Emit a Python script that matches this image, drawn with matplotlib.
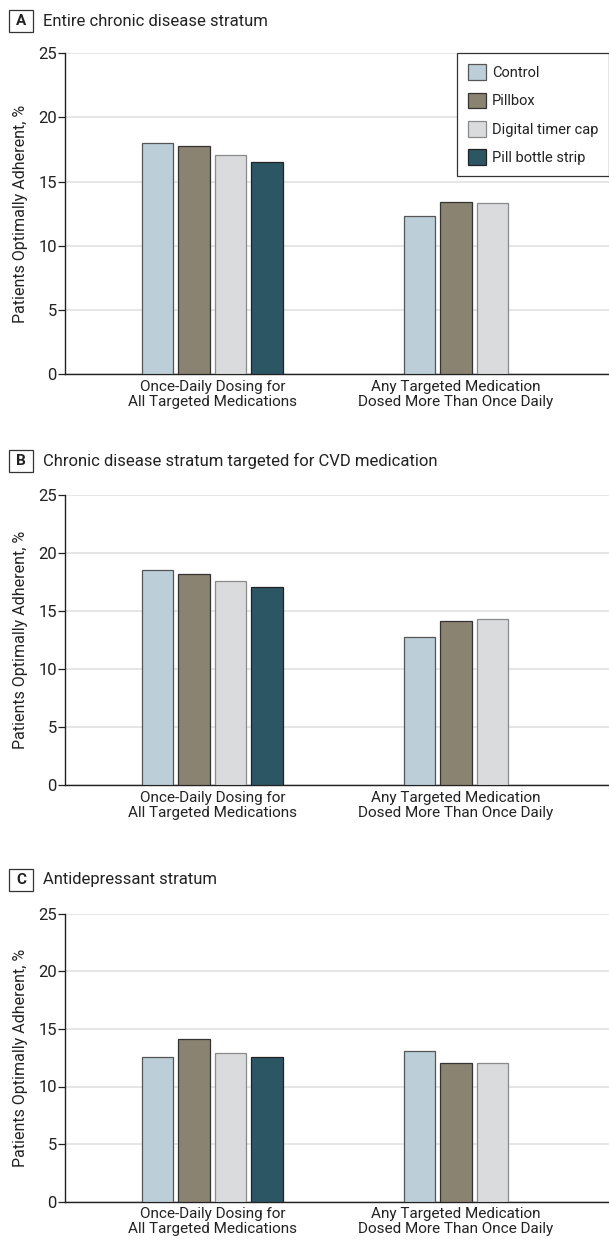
import matplotlib
matplotlib.use("Agg")
import matplotlib.pyplot as plt
from matplotlib.patches import Rectangle
import numpy as np

plt.rcParams['font.family'] = ['Roboto', 'DejaVu Sans']

# ---- data ----
categories = ["Once-Daily Dosing for\nAll Targeted Medications",
              "Any Targeted Medication\nDosed More Than Once Daily"]
series = ["Control", "Pillbox", "Digital timer cap", "Pill bottle strip"]
panel_letters = ["A", "B", "C"]
panel_titles = ["Entire chronic disease stratum",
                "Chronic disease stratum targeted for CVD medication",
                "Antidepressant stratum"]
# values per panel: once-daily group (4 series), more-than-once group (3 series)
a_once = [18.0, 17.8, 17.1, 16.5]
a_multi = [12.3, 13.4, 13.3]
b_once = [18.5, 18.2, 17.6, 17.1]
b_multi = [12.8, 14.1, 14.3]
c_once = [12.6, 14.1, 12.9, 12.6]
c_multi = [13.1, 12.0, 12.0]
y_ticks = [0, 5, 10, 15, 20, 25]

# ---- style ----
face = ["#BCCFD8", "#8A8371", "#DADBDD", "#2D5664"]
edge = ["#555555", "#333333", "#8A8A8A", "#222222"]
txt = "#222222"
W, H = 609, 1240
fig = plt.figure(figsize=(W / 100, H / 100), dpi=100)

# axes pixel positions (top, bottom) of the 25 and 0 levels
ax_px = [(53.3, 374.0), (495.0, 785.0), (913.7, 1201.7)]
title_cy = [21.0, 461.0, 879.5]
left_px = 65.3
pitch = 0.1494
bw = 0.129

panels = [(a_once, a_multi), (b_once, b_multi), (c_once, c_multi)]

for i, ((once, multi), (ytop, ybot)) in enumerate(zip(panels, ax_px)):
    ax = fig.add_axes([left_px / W, 1 - ybot / H, (W - left_px) / W, (ybot - ytop) / H])
    n1 = len(once)
    offs1 = (np.arange(n1) - (n1 - 1) / 2) * pitch
    for j, v in enumerate(once):
        ax.bar(0 + offs1[j], v, width=bw, color=face[j], edgecolor=edge[j],
               linewidth=0.9, label=series[j], zorder=3)
    n2 = len(multi)
    offs2 = (np.arange(n2) - (n2 - 1) / 2) * pitch
    for j, v in enumerate(multi):
        ax.bar(1 + offs2[j], v, width=bw, color=face[j], edgecolor=edge[j],
               linewidth=0.9, zorder=3)
    ax.set_xlim(-0.603, 1.628)
    ax.set_ylim(0, 25)
    ax.set_yticks(y_ticks)
    ax.set_xticks([0, 1])
    ax.set_xticklabels(categories, fontsize=11, color=txt, linespacing=1.1)
    ax.tick_params(axis='x', length=0, pad=4)
    ax.tick_params(axis='y', length=5, width=0.9, pad=1, labelsize=12,
                   colors=txt, direction='out')
    ax.grid(axis='y', color='#E2E2E2', linewidth=1.2, zorder=0)
    ax.set_axisbelow(True)
    for s in ['top', 'right']:
        ax.spines[s].set_visible(False)
    for s in ['left', 'bottom']:
        ax.spines[s].set_color(txt)
        ax.spines[s].set_linewidth(1.0)
    ax.set_ylabel("Patients Optimally Adherent, %", fontsize=11.5, color=txt)
    ax.yaxis.set_label_coords(-0.068, 0.5)

    if i == 0:
        leg = ax.legend(loc='upper right', bbox_to_anchor=(1.0, 1.0),
                        borderaxespad=0, fontsize=10.5, frameon=True,
                        fancybox=False, framealpha=1, edgecolor='#333333',
                        handlelength=1.25, handleheight=1.3, labelspacing=0.85,
                        handletextpad=0.4, borderpad=0.75)
        leg.get_frame().set_linewidth(0.9)
        for t in leg.get_texts():
            t.set_color(txt)

    # panel label box and title
    cy = title_cy[i]
    fig.add_artist(Rectangle((9.3 / W, 1 - (cy + 11) / H), 24 / W, 22 / H,
                             transform=fig.transFigure, facecolor='white',
                             edgecolor='#333333', linewidth=0.9))
    fig.text(21.3 / W, 1 - cy / H, panel_letters[i], ha='center', va='center',
             fontsize=11, fontweight='bold', color=txt)
    fig.text(43.3 / W, 1 - cy / H, panel_titles[i], ha='left', va='center',
             fontsize=12, color=txt)

fig.savefig("out.png", dpi=100)
